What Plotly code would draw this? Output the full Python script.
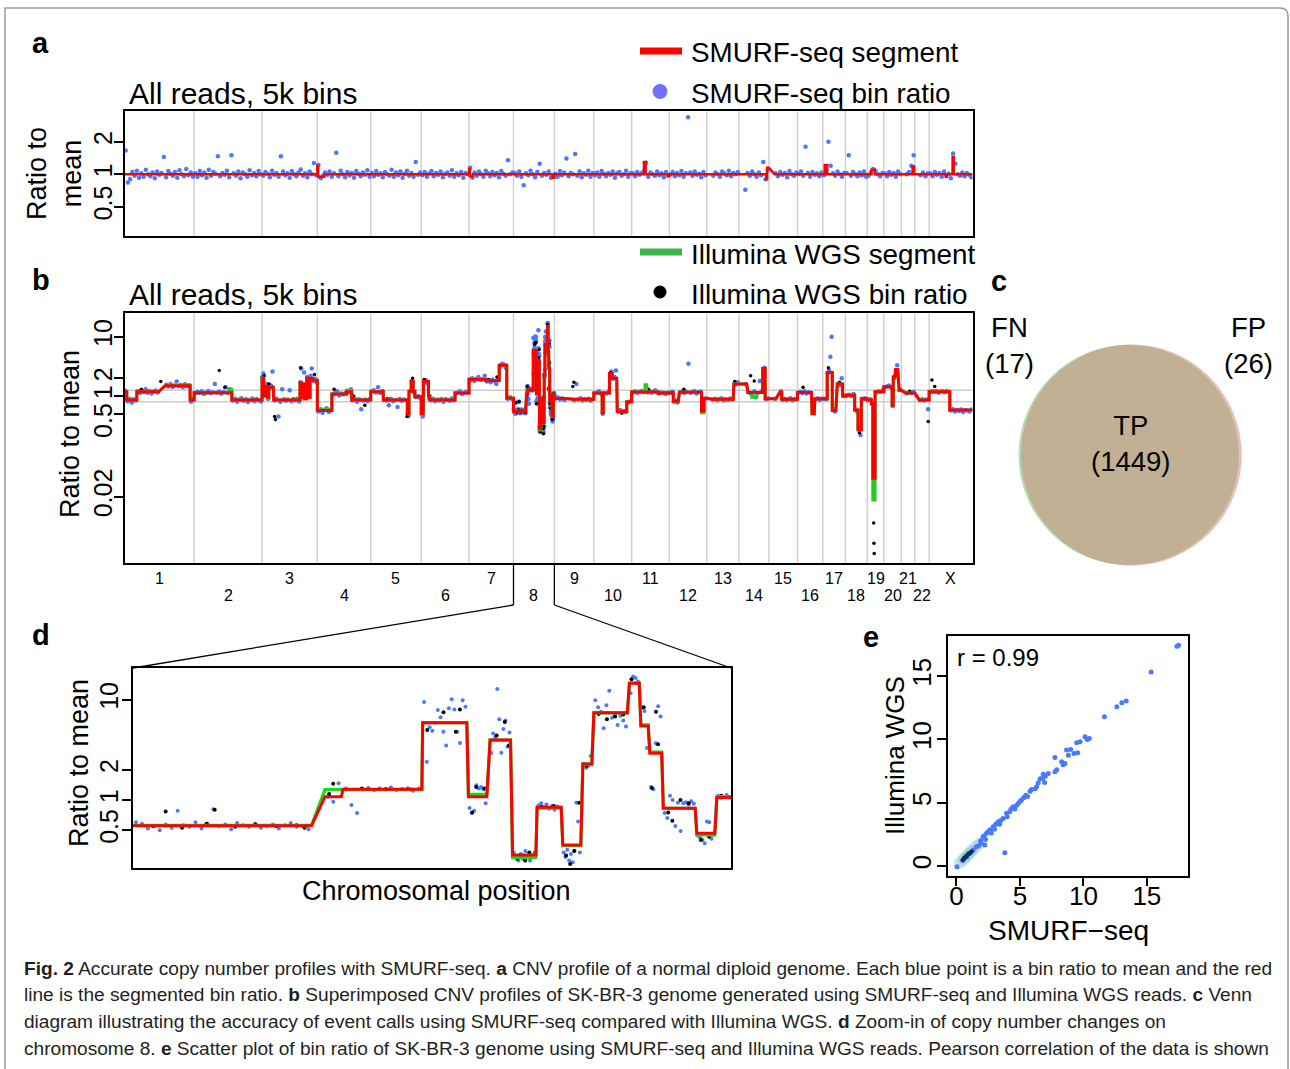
import math
import numpy as np
import plotly.graph_objects as go

W, H = 1290, 1069
FONT = "Liberation Sans, Arial, Helvetica, sans-serif"

# ---------------------------------------------------------------- data
chrom_names = ["1", "2", "3", "4", "5", "6", "7", "8", "9", "10", "11", "12",
               "13", "14", "15", "16", "17", "18", "19", "20", "21", "22", "X"]
chrom_len_mb = [249.25, 243.20, 198.02, 191.15, 180.92, 171.12, 159.14, 146.36,
                141.21, 135.53, 135.01, 133.85, 115.17, 107.35, 102.53, 90.35,
                81.20, 78.08, 59.13, 63.03, 48.13, 51.30, 155.27]

# panel a: normal diploid genome, SMURF-seq segments (chrom, start Mb, end Mb, ratio)
a_segments = [
    ("1", 0, 249.25, 1.0), ("2", 0, 243.2, 1.0), ("3", 0, 198.02, 1.0),
    ("4", 0, 3, 1.2), ("4", 3, 25, 0.95), ("4", 25, 191.15, 1.0),
    ("5", 0, 180.92, 1.0), ("6", 0, 171.12, 1.0),
    ("7", 0, 3, 1.12), ("7", 3, 14, 0.96), ("7", 14, 159.14, 1.0),
    ("8", 0, 140, 1.0), ("8", 140, 146.36, 0.93),
    ("9", 0, 141.21, 1.0), ("10", 0, 135.53, 1.0),
    ("11", 0, 44, 1.0), ("11", 44, 50, 1.3), ("11", 50, 130, 1.0), ("11", 130, 135.01, 0.97),
    ("12", 0, 133.85, 1.0), ("13", 19, 115.17, 1.0),
    ("14", 19, 98, 1.0), ("14", 98, 101, 0.9), ("14", 101, 107.35, 1.15),
    ("15", 20, 102.53, 1.0), ("16", 0, 90.35, 1.0),
    ("17", 0, 7, 1.0), ("17", 7, 16, 1.22), ("17", 16, 81.2, 1.0),
    ("18", 0, 78.08, 1.0),
    ("19", 0, 15, 1.0), ("19", 15, 27, 1.1), ("19", 27, 59.13, 1.0),
    ("20", 0, 63.03, 1.0),
    ("21", 15, 40, 1.0), ("21", 40, 46, 1.18), ("21", 46, 48.13, 1.0),
    ("22", 16, 51.3, 1.0),
    ("X", 0, 60, 1.0), ("X", 60, 64, 0.95), ("X", 64, 84, 1.0), ("X", 84, 88, 1.45), ("X", 88, 155.27, 1.0),
]

# panel a: SMURF-seq bin ratios, one list per chromosome (in genomic order)
a_bin_ratio = [
    [1.66, 0.84, 0.9, 1.05, 0.97, 1.08, 0.93, 1.02, 0.95, 1.1, 1.0, 0.96, 1.04, 0.92, 1.06, 0.99, 1.03, 1.45, 0.94, 1.07, 1.01, 0.97, 1.05, 0.93, 1.09, 1.0, 0.96, 1.12, 0.98, 1.04, 0.95],
    [1.02, 0.95, 1.07, 0.98, 1.04, 0.93, 1.1, 0.97, 1.05, 1.01, 1.47, 0.96, 1.03, 0.99, 1.08, 0.94, 1.5, 1.02, 0.97, 1.06, 0.92, 1.04, 1.0, 0.95, 1.09, 0.98, 1.03, 0.96, 1.07, 1.0],
    [0.97, 1.05, 1.01, 0.94, 1.08, 0.99, 1.03, 0.95, 1.47, 1.06, 0.98, 1.02, 0.93, 1.07, 1.0, 0.96, 1.04, 1.11, 0.97, 1.02, 0.94, 1.06, 1.0, 1.27, 0.98],
    [1.22, 0.92, 0.97, 1.04, 0.99, 1.06, 0.95, 1.02, 1.58, 0.96, 1.08, 1.0, 0.94, 1.05, 0.98, 1.03, 0.93, 1.07, 1.01, 0.96, 1.04, 0.99, 1.09, 0.95],
    [1.03, 0.96, 1.07, 0.99, 1.02, 0.94, 1.05, 1.0, 0.97, 1.1, 0.95, 1.04, 0.98, 1.06, 0.93, 1.01, 1.08, 0.97, 1.03, 0.95, 1.3, 0.99, 1.04],
    [0.98, 1.05, 0.95, 1.02, 1.07, 0.96, 1.03, 0.99, 1.06, 0.94, 1.01, 1.04, 0.97, 1.09, 0.95, 1.02, 0.98, 1.05, 0.93, 1.03, 1.0],
    [1.15, 0.93, 1.04, 0.97, 1.06, 1.0, 0.95, 1.08, 1.02, 0.96, 1.05, 0.98, 1.03, 0.94, 1.07, 1.01, 0.97, 1.35, 1.0, 1.04],
    [1.03, 0.97, 1.06, 0.95, 0.79, 1.02, 0.98, 1.08, 1.0, 0.94, 1.05, 1.25, 0.97, 1.03, 0.99, 1.06, 0.93, 0.96],
    [1.01, 0.95, 1.07, 0.98, 1.04, 1.4, 0.96, 1.03, 1.0, 1.54, 0.97, 1.06, 0.94, 1.02, 0.99, 1.08, 0.95, 1.03],
    [0.98, 1.04, 0.95, 1.07, 1.01, 0.96, 1.03, 0.99, 1.06, 0.93, 1.02, 1.05, 0.97, 1.0, 1.08, 0.95, 1.03],
    [1.02, 0.96, 1.05, 0.99, 1.03, 1.07, 1.28, 0.95, 1.04, 1.0, 0.97, 1.06, 0.98, 1.02, 0.94, 1.05, 0.97],
    [1.0, 1.05, 0.96, 1.03, 0.98, 1.07, 0.95, 1.02, 3.37, 1.04, 0.97, 1.06, 0.99, 1.01, 0.94, 1.05, 0.98],
    [0.97, 1.04, 1.0, 0.95, 1.06, 1.02, 0.98, 1.08, 0.96, 1.03, 1.0, 1.05],
    [0.72, 1.03, 0.97, 1.06, 1.0, 0.95, 1.04, 0.98, 1.3, 0.9, 1.1],
    [1.02, 0.96, 1.05, 0.99, 1.03, 0.94, 1.07, 1.0, 0.97, 1.04],
    [1.0, 1.06, 0.97, 1.8, 1.03, 0.95, 1.05, 0.99, 1.02, 0.96, 1.04],
    [0.98, 1.05, 2.0, 1.2, 1.02, 0.97, 1.06, 1.0, 0.95, 1.03],
    [1.03, 1.5, 0.97, 1.05, 1.0, 0.96, 1.04, 0.98, 1.06, 0.95],
    [0.97, 1.04, 1.12, 1.08, 1.0, 0.96, 1.03],
    [1.02, 0.96, 1.05, 0.99, 1.03, 0.95, 1.06, 1.0],
    [1.0, 1.05, 1.2, 1.5],
    [0.98, 1.04, 0.96, 1.02],
    [1.02, 0.96, 1.05, 0.99, 1.03, 0.95, 1.06, 0.98, 1.01, 0.92, 1.56, 1.25, 1.0, 0.97, 1.04, 0.96, 1.03, 0.99, 0.94],
]

# panel b: SK-BR-3 segments (chrom, start Mb, end Mb, SMURF-seq ratio, Illumina ratio, SMURF-seq bin ratios)
# chromosome 8 is taken from the panel d table below
b_segments = [
    ("1", 0, 8, 1.18, 1.18, [1.24, 1.1]),
    ("1", 8, 44, 0.86, 0.86, [0.82, 0.9, 0.78, 0.88, 0.84]),
    ("1", 44, 122, 1.18, 1.18, [1.2, 1.12, 1.25, 1.16, 1.3, 1.14, 1.21, 1.1, 1.19, 1.24, 1.15]),
    ("1", 146, 235, 1.49, 1.52, [1.55, 1.45, 1.6, 1.42, 1.5, 1.75, 1.48, 1.53, 1.4, 1.58, 1.46, 1.52]),
    ("1", 235, 249.25, 0.86, 0.86, [0.8, 0.9]),
    ("2", 0, 125, 1.14, 1.14, [1.1, 1.18, 1.12, 1.2, 1.08, 1.15, 1.22, 1.11, 1.16, 1.6, 1.13, 1.19, 1.09, 1.17, 1.4, 1.14]),
    ("2", 125, 135, 1.14, 1.3, [1.3, 1.2]),
    ("2", 135, 243.2, 0.86, 0.86, [0.84, 0.9, 0.8, 0.87, 0.92, 0.83, 0.88, 0.79, 0.86, 0.91, 0.82, 0.89, 0.85, 0.81]),
    ("3", 0, 6, 2.0, 2.0, [2.1, 1.8, 2.4]),
    ("3", 6, 10, 1.0, 1.0, [1.05]),
    ("3", 10, 20, 1.45, 1.45, [1.4, 1.6]),
    ("3", 20, 24, 0.95, 0.9, [0.9]),
    ("3", 24, 40, 1.4, 1.4, [1.35, 1.5, 2.6]),
    ("3", 42, 136, 0.86, 0.86, [0.84, 0.9, 0.45, 0.8, 1.3, 0.88, 0.83, 0.87, 1.25, 0.82, 0.89, 0.85, 0.9, 0.81]),
    ("3", 136, 142, 1.65, 1.65, [1.7, 2.9]),
    ("3", 142, 146, 0.95, 0.95, [0.95]),
    ("3", 146, 152, 1.6, 1.6, [1.55, 2.5]),
    ("3", 152, 160, 0.9, 0.9, [0.92]),
    ("3", 160, 166, 2.0, 2.0, [2.1, 1.8]),
    ("3", 166, 172, 0.95, 0.95, [1.0]),
    ("3", 172, 180, 2.0, 2.0, [2.2, 2.9]),
    ("3", 180, 198.02, 1.85, 1.85, [1.8, 1.95, 1.7]),
    ("4", 0, 52, 0.57, 0.6, [0.55, 0.6, 0.52, 0.58, 0.62, 0.54, 0.57]),
    ("4", 52, 105, 1.08, 1.08, [1.05, 1.12, 1.2, 1.02, 1.1, 1.06, 1.14]),
    ("4", 105, 123, 1.18, 1.25, [1.22, 1.15, 1.3]),
    ("4", 123, 191.15, 0.86, 0.86, [0.85, 0.9, 0.8, 0.88, 0.6, 0.84, 0.87, 0.82, 0.89]),
    ("5", 0, 45, 1.18, 1.18, [1.2, 1.25, 1.15, 1.4, 1.12, 1.22]),
    ("5", 45, 131, 0.86, 0.86, [0.88, 0.84, 0.7, 0.9, 0.82, 0.86, 0.65, 0.89, 0.83, 0.87, 0.85]),
    ("5", 131, 137, 0.5, 0.5, [0.5, 0.46]),
    ("5", 137, 145, 1.2, 1.2, [1.2]),
    ("5", 145, 152, 1.75, 1.75, [1.8, 1.6]),
    ("5", 152, 158, 1.2, 1.2, [1.15]),
    ("5", 158, 180.92, 0.97, 0.97, [0.95, 1.0, 0.92]),
    ("6", 0, 7, 0.5, 0.5, [0.52, 0.45]),
    ("6", 8, 26, 1.75, 1.75, [1.7, 1.85, 1.6]),
    ("6", 26, 31, 1.0, 1.0, [0.9]),
    ("6", 31, 121, 0.86, 0.86, [0.85, 0.9, 0.82, 0.87, 0.84, 0.89, 0.8, 0.88, 0.86, 0.83, 0.91, 0.85]),
    ("6", 121, 171.12, 1.12, 1.15, [1.1, 1.15, 1.2, 1.08, 1.12, 1.18, 1.14]),
    ("7", 0, 60, 1.9, 1.95, [1.85, 2.0, 1.8, 1.95, 2.1, 1.88, 1.92, 2.2]),
    ("7", 60, 108, 1.82, 1.82, [1.75, 1.85, 1.7, 1.9, 1.78, 1.6, 1.84]),
    ("7", 108, 135, 3.3, 3.3, [3.1, 3.5, 3.4, 3.0]),
    ("7", 135, 159.14, 0.92, 0.92, [0.9, 0.95, 0.88]),
    ("9", 0, 40, 0.91, 0.91, [0.9, 0.95, 0.88, 0.92, 0.86]),
    ("9", 68, 141.21, 0.88, 0.88, [0.85, 1.6, 0.87, 0.92, 0.84, 0.89, 0.86, 0.9, 0.83, 0.88]),
    ("10", 0, 30, 1.12, 1.12, [1.1, 1.15, 1.2, 1.08]),
    ("10", 30, 34, 0.52, 0.52, [0.5]),
    ("10", 34, 40, 1.12, 1.12, [1.12]),
    ("10", 42, 56, 1.12, 1.12, [1.1, 1.2]),
    ("10", 56, 66, 2.4, 2.4, [2.3, 2.6]),
    ("10", 66, 82, 2.0, 2.0, [1.95, 2.1, 2.7]),
    ("10", 84, 118, 0.55, 0.55, [0.55, 0.58, 0.52, 0.56, 0.54]),
    ("10", 118, 135.53, 0.8, 0.8, [0.78, 0.82]),
    ("11", 0, 48, 1.17, 1.17, [1.15, 1.2, 1.12, 1.18, 1.22, 1.16]),
    ("11", 48, 54, 1.17, 1.55, [1.3]),
    ("11", 54, 95, 1.17, 1.17, [1.15, 1.2, 1.14, 1.19, 1.25, 1.16]),
    ("11", 95, 135.01, 1.12, 1.12, [1.1, 1.15, 1.12, 1.08, 1.14]),
    ("12", 0, 14, 1.14, 1.14, [1.12, 1.18]),
    ("12", 14, 32, 0.82, 0.82, [0.8, 0.85, 0.78]),
    ("12", 36, 115, 1.16, 1.16, [1.15, 1.2, 1.12, 1.18, 3.5, 1.14, 1.17, 1.22, 1.1, 1.16, 1.19]),
    ("12", 115, 124, 0.56, 0.52, [0.55, 0.6]),
    ("12", 124, 133.85, 0.92, 0.92, [0.9]),
    ("13", 19, 95, 0.88, 0.88, [0.87, 0.9, 0.85, 0.89, 0.92, 0.84, 0.88, 0.86, 0.91, 0.87]),
    ("13", 97, 115.17, 1.6, 1.6, [1.55, 1.7]),
    ("14", 19, 28, 1.6, 1.6, [1.6]),
    ("14", 32, 46, 1.15, 1.15, [1.15, 1.1]),
    ("14", 46, 64, 1.15, 0.95, [1.0, 1.2, 0.95]),
    ("14", 64, 85, 1.15, 1.15, [1.12, 1.8, 1.2]),
    ("14", 85, 94, 2.9, 2.9, [2.8, 3.0]),
    ("14", 94, 107.35, 0.9, 0.9, [0.88, 0.92]),
    ("15", 20, 25, 0.9, 0.9, [0.9]),
    ("15", 40, 46, 1.17, 1.17, [1.2]),
    ("15", 46, 102.53, 0.88, 0.88, [0.86, 0.9, 0.85, 0.88, 0.92, 0.84, 0.89, 0.87]),
    ("16", 0, 50, 1.15, 1.15, [1.15, 1.18, 1.12, 1.2, 1.1, 1.16, 1.14]),
    ("16", 52, 60, 0.5, 0.5, [0.52]),
    ("16", 62, 90.35, 0.9, 0.9, [0.88, 0.92, 0.86, 0.9]),
    ("17", 0, 16, 0.9, 0.9, [0.9, 0.88]),
    ("17", 16, 34, 2.5, 2.5, [2.4, 2.7, 4.6, 10.0]),
    ("17", 34, 47, 0.57, 0.62, [0.58, 0.55]),
    ("17", 52, 71, 1.6, 1.6, [1.6, 1.5, 2.0]),
    ("17", 71, 81.2, 1.0, 1.0, [1.0]),
    ("18", 0, 33, 1.03, 1.03, [1.02, 1.05, 1.0, 1.08]),
    ("18", 33, 45, 0.58, 0.58, [0.6, 0.55]),
    ("18", 45, 57, 0.27, 0.27, [0.3, 0.22]),
    ("18", 57, 78.08, 0.9, 0.9, [0.88, 0.92, 0.9]),
    ("19", 0, 15, 0.86, 0.86, [0.85, 0.88]),
    ("19", 15, 20, 0.75, 0.72, [0.75]),
    ("19", 20, 28, 0.041, 0.0177, [0.045]),
    ("19", 28, 59.13, 1.18, 1.18, [1.15, 1.2, 1.18, 1.25]),
    ("20", 0, 30, 1.43, 1.43, [1.4, 1.45, 1.5, 1.38]),
    ("20", 30, 34, 0.7, 0.7, [0.68]),
    ("20", 34, 40, 2.1, 2.1, [2.0]),
    ("20", 42, 50, 2.8, 2.8, [2.7, 3.3]),
    ("20", 55, 63.03, 1.25, 1.25, [1.3]),
    ("21", 15, 48.13, 1.12, 1.12, [1.1, 1.15, 1.12, 1.18]),
    ("22", 16, 51.3, 0.86, 0.86, [0.85, 0.88, 0.84, 0.87, 0.6]),
    ("X", 0, 74, 1.18, 1.2, [1.15, 1.2, 1.18, 1.22, 1.14, 1.19, 1.2, 1.16, 1.21, 1.17]),
    ("X", 74, 155.27, 0.58, 0.57, [0.57, 0.6, 0.55, 0.58, 0.56, 0.59, 0.54, 0.58, 0.57, 0.55, 0.59]),
]
b_ref_levels = [1.25, 0.8]
# Illumina WGS bin ratios that stand out of the band (chrom, Mb, ratio)
b_illumina_points = [
    ("1", 130, 1.75), ("1", 60, 1.3), ("2", 90, 2.7), ("2", 110, 1.4), ("3", 8, 2.2), ("3", 25, 1.6),
    ("3", 45, 0.45), ("3", 48, 0.4), ("3", 138, 3.0), ("3", 188, 2.3), ("4", 60, 1.3), ("4", 130, 1.0),
    ("4", 170, 0.7), ("5", 60, 0.9), ("5", 130, 0.45), ("5", 150, 2.0), ("6", 10, 1.9), ("7", 70, 1.9),
    ("7", 100, 2.1), ("9", 66, 1.45), ("9", 70, 1.7), ("10", 60, 2.5), ("10", 100, 0.52), ("11", 50, 1.45),
    ("11", 60, 1.3), ("12", 52, 1.3), ("13", 100, 1.75), ("14", 42, 2.2), ("14", 55, 1.8), ("16", 20, 1.4),
    ("17", 20, 3.0), ("17", 60, 1.7), ("18", 50, 0.24), ("18", 70, 0.9), ("19", 22, 0.7), ("19", 23, 0.0072),
    ("19", 24, 0.0033), ("19", 25, 0.0022), ("20", 45, 2.3), ("21", 30, 1.2), ("22", 48, 0.37),
    ("X", 10, 1.86), ("X", 20, 1.45),
]

# panel d: chromosome 8 (start Mb, end Mb, SMURF-seq ratio, Illumina ratio, SMURF-seq bin ratios)
d_segments = [
    (0.0, 43.7, 0.554, 0.56, [0.6, 0.58, 0.52, 0.55, 0.5, 0.57, 0.53, 0.78, 0.56, 0.54, 0.6, 0.52, 0.58, 0.81, 0.55, 0.57, 0.51, 0.59, 0.56, 0.54, 0.58, 0.53, 0.55, 0.57, 0.52, 0.56, 0.59, 0.54, 0.55, 0.51]),
    (47.0, 51.0, 1.08, 1.27, [1.08, 0.96, 1.47]),
    (51.4, 70.7, 1.28, 1.27, [1.3, 0.89, 0.74, 1.27, 1.32, 1.25, 1.3, 1.28, 1.33, 1.26, 1.29, 1.31, 1.24, 1.3]),
    (70.9, 81.7, 5.9, 5.9, [9.5, 2.4, 5.3, 4.9, 5.9, 7.9, 6.7, 4.8, 3.5, 8.2, 10.1, 8.0, 4.8, 3.7, 9.9, 8.5]),
    (82.1, 86.6, 1.08, 1.14, [0.83, 0.74, 0.78, 1.4, 1.3, 1.35, 1.28, 0.93]),
    (87.4, 92.4, 3.96, 3.96, [2.94, 4.6, 4.2, 12.8, 6.4, 2.96, 5.1, 6.2, 3.4, 4.7]),
    (92.9, 98.6, 0.283, 0.268, [0.3, 0.27, 0.25, 0.29, 0.26, 0.31, 0.27, 0.25, 0.28, 0.3]),
    (98.9, 104.8, 0.846, 0.83, [0.88, 0.93, 0.85, 0.9, 0.82, 0.87, 0.8, 0.86, 0.84]),
    (105.2, 109.6, 0.356, 0.35, [0.3, 0.27, 0.32, 0.25, 0.29, 0.24, 0.31, 0.94, 0.61, 0.3]),
    (110.1, 112.3, 2.28, 2.28, [2.3, 2.1, 2.2, 2.74]),
    (112.8, 121.0, 7.4, 7.4, [9.9, 8.4, 7.6, 5.2, 8.8, 12.3, 6.6, 7.0, 5.6, 6.9, 6.2, 5.4]),
    (121.5, 123.9, 14.6, 14.6, [11.6, 17.0, 16.5, 15.2]),
    (124.3, 126.1, 5.47, 5.6, [8.3, 7.7, 3.3]),
    (126.5, 129.4, 2.92, 3.0, [1.35, 1.28, 3.67, 8.6, 6.8]),
    (129.8, 137.6, 0.827, 0.827, [0.74, 0.66, 1.1, 1.0, 0.55, 0.94, 0.49, 0.93, 0.95, 0.9, 0.97, 0.92]),
    (138.0, 142.4, 0.465, 0.45, [0.44, 0.42, 0.4, 0.37, 0.61, 0.6, 0.41, 0.45]),
    (142.9, 146.36, 1.06, 1.08, [1.1, 1.05, 1.08, 1.12, 1.06]),
]
d_illumina_points = [
    (5, 0.55), (8, 0.77), (12, 0.53), (18, 0.58), (20, 0.8), (25, 0.54), (30, 0.57), (35, 0.55),
    (40, 0.56), (42, 0.53), (48, 1.15), (49, 1.45), (56, 1.3), (62, 1.28), (68, 1.27), (72, 5.0),
    (76, 7.5), (80, 8.0), (79, 4.8), (83, 0.75), (84, 1.35), (86, 1.3), (89, 4.4), (91, 6.0),
    (92, 3.5), (94, 0.26), (96, 0.25), (97, 0.3), (100, 0.85), (103, 0.87), (106, 0.28), (107, 0.23),
    (108, 0.31), (109.2, 0.94), (111, 2.2), (114, 7.2), (116, 6.4), (118, 6.8), (120, 7.1),
    (122, 16.0), (125, 8.4), (127, 1.32), (128, 7.6), (128.5, 3.6), (131, 0.75), (132, 0.62),
    (134, 1.0), (136, 0.93), (139, 0.4), (141, 0.43), (144, 1.1), (145.5, 1.08),
]

# panel c: Venn counts
venn_tp, venn_fn, venn_fp = 1449, 17, 26

# panel e: bin ratio scatter
e_smurf = [17.5, 17.37, 15.34, 13.37, 13.03, 12.63, 11.66, 10.47, 10.13, 9.74, 9.47, 9.55, 9.26, 8.82, 8.68,
           8.55, 8.29, 7.76, 7.76, 7.24, 6.84, 6.79, 6.45, 6.32, 5.92, 5.47, 5.13, 4.87, 4.47, 4.21, 3.95,
           3.68, 3.29, 2.89, 2.63, 2.37, 2.1, 1.97, 2.24, 3.82, 1.58, 1.32, 1.05, 0.79, 0.53, 0.05,
           8.4, 7.9, 7.0, 6.6, 6.2, 5.8, 5.3, 5.0, 4.6, 4.3, 4.0, 3.5, 3.1, 3.0, 2.75, 2.5, 2.3, 1.9,
           1.75, 2.2, 6.95, 10.3, 9.0, 5.6, 4.75, 3.4, 2.95]
e_illumina = [17.45, 17.37, 15.34, 13.05, 12.9, 12.58, 11.79, 10.08, 10.21, 9.82, 9.74, 8.95, 8.89, 8.76, 9.16,
              8.1, 8.24, 8.58, 7.45, 7.32, 7.26, 6.92, 6.58, 6.26, 6.05, 5.6, 5.21, 4.95, 4.68, 4.29, 4.16,
              3.76, 3.5, 3.1, 2.84, 2.58, 2.32, 1.79, 1.66, 1.05, 1.53, 1.26, 1.0, 0.74, 0.47, -0.05,
              8.0, 7.6, 7.1, 6.9, 6.1, 5.9, 5.4, 5.1, 4.5, 4.5, 3.9, 3.6, 3.3, 2.9, 2.6, 2.7, 2.1, 2.0,
              1.6, 2.4, 6.6, 10.0, 9.2, 5.5, 4.8, 3.3, 3.0]
e_dense_smurf = [0.2, 0.4, 0.55, 0.7, 0.85, 1.0, 1.15, 1.3, 1.5, 1.7, 1.9, 0.6, 0.9, 1.2]
e_dense_illumina = [0.2, 0.35, 0.6, 0.65, 0.9, 0.95, 1.2, 1.25, 1.55, 1.65, 1.85, 0.5, 0.8, 1.1]
e_core_smurf = [0.6, 0.7, 0.78, 0.85, 0.95, 1.05, 0.5, 1.2]
e_core_illumina = [0.62, 0.68, 0.8, 0.83, 0.97, 1.0, 0.45, 1.15]
e_pearson_r = 0.99

# ---------------------------------------------------------------- helpers
RED = "#ff0000"
GREEN = "#22cc22"
BLUE = "rgb(72,122,255)"


def pxx(x):
    return x / W


def pxy(y):
    return 1 - y / H


offsets = np.concatenate([[0.0], np.cumsum(chrom_len_mb)])
genome_len = float(offsets[-1])
cidx = {c: i for i, c in enumerate(chrom_names)}

dom_x_ab = [pxx(124.5), pxx(972.5)]
dom_y_a = [pxy(236), pxy(111)]
dom_y_b = [pxy(563), pxy(313)]
dom_x_d = [pxx(133), pxx(731)]
dom_y_d = [pxy(868), pxy(668)]
dom_x_e = [pxx(948), pxx(1188)]
dom_y_e = [pxy(876), pxy(636)]
dom_x_v = [pxx(980), pxx(1280)]
dom_y_v = [pxy(580), pxy(330)]

fig = go.Figure()

# ---------------------------------------------------------------- panel a
a_line_x, a_line_y = [], []
for c, s, e, v in a_segments:
    o = offsets[cidx[c]]
    a_line_x += [o + s, o + e]
    a_line_y += [v, v]
a_bx, a_by = [], []
for i, vals in enumerate(a_bin_ratio):
    c = chrom_names[i]
    s0 = min(s for cc, s, e, v in a_segments if cc == c)
    e0 = chrom_len_mb[i]
    n = len(vals)
    for k, v in enumerate(vals):
        a_bx.append(offsets[i] + s0 + (k + 0.5) * (e0 - s0) / n)
        a_by.append(v)
fig.add_trace(go.Scatter(x=a_bx, y=a_by, mode="markers", marker=dict(size=4.5, color=BLUE),
                         xaxis="x", yaxis="y", hoverinfo="skip"))
fig.add_trace(go.Scatter(x=a_line_x, y=a_line_y, mode="lines", line=dict(color=RED, width=2.5),
                         xaxis="x", yaxis="y", hoverinfo="skip"))

# ---------------------------------------------------------------- panel b
all_segments = []
for c in chrom_names:
    if c == "8":
        for s, e, sm, il, bins in d_segments:
            all_segments.append((c, s, e, sm, il, bins))
    else:
        all_segments += [row for row in b_segments if row[0] == c]

b_red_x, b_red_y, b_grn_x, b_grn_y, b_bx, b_by = [], [], [], [], [], []
for c, s, e, sm, il, bins in all_segments:
    o = offsets[cidx[c]]
    b_red_x += [o + s, o + e]
    b_red_y += [sm, sm]
    b_grn_x += [o + s, o + e]
    b_grn_y += [il, il]
    n = len(bins)
    for k, v in enumerate(bins):
        b_bx.append(o + s + (k + 0.5) * (e - s) / n)
        b_by.append(v)
b_kx = [offsets[cidx[c]] + p for c, p, v in b_illumina_points] + [offsets[cidx["8"]] + p for p, v in d_illumina_points]
b_ky = [v for c, p, v in b_illumina_points] + [v for p, v in d_illumina_points]

for lv in b_ref_levels:
    fig.add_trace(go.Scatter(x=[0, genome_len], y=[lv, lv], mode="lines",
                             line=dict(color="#cccccc", width=1.3), xaxis="x2", yaxis="y2", hoverinfo="skip"))
fig.add_trace(go.Scatter(x=b_bx, y=b_by, mode="markers", marker=dict(size=4.5, color=BLUE),
                         xaxis="x2", yaxis="y2", hoverinfo="skip"))
fig.add_trace(go.Scatter(x=b_kx, y=b_ky, mode="markers", marker=dict(size=3.5, color="black"),
                         xaxis="x2", yaxis="y2", hoverinfo="skip"))
fig.add_trace(go.Scatter(x=b_grn_x, y=b_grn_y, mode="lines", line=dict(color=GREEN, width=3),
                         xaxis="x2", yaxis="y2", hoverinfo="skip"))
fig.add_trace(go.Scatter(x=b_red_x, y=b_red_y, mode="lines", line=dict(color=RED, width=3),
                         xaxis="x2", yaxis="y2", hoverinfo="skip"))

# ---------------------------------------------------------------- panel d
d_red_x, d_red_y, d_grn_x, d_grn_y, d_bx, d_by = [], [], [], [], [], []
for s, e, sm, il, bins in d_segments:
    d_red_x += [s, e]
    d_red_y += [sm, sm]
    d_grn_x += [s, e]
    d_grn_y += [il, il]
    n = len(bins)
    for k, v in enumerate(bins):
        d_bx.append(s + (k + 0.5) * (e - s) / n)
        d_by.append(v)
fig.add_trace(go.Scatter(x=d_bx, y=d_by, mode="markers", marker=dict(size=4, color=BLUE),
                         xaxis="x3", yaxis="y3", hoverinfo="skip"))
fig.add_trace(go.Scatter(x=[p for p, v in d_illumina_points], y=[v for p, v in d_illumina_points],
                         mode="markers", marker=dict(size=4, color="black"),
                         xaxis="x3", yaxis="y3", hoverinfo="skip"))
fig.add_trace(go.Scatter(x=d_grn_x, y=d_grn_y, mode="lines", line=dict(color="#11dd11", width=3.2),
                         xaxis="x3", yaxis="y3", hoverinfo="skip"))
fig.add_trace(go.Scatter(x=d_red_x, y=d_red_y, mode="lines", line=dict(color=RED, width=3),
                         xaxis="x3", yaxis="y3", hoverinfo="skip"))

# ---------------------------------------------------------------- panel e
fig.add_trace(go.Scatter(x=e_dense_smurf, y=e_dense_illumina, mode="markers",
                         marker=dict(size=12, color="rgba(140,200,215,0.3)"),
                         xaxis="x4", yaxis="y4", hoverinfo="skip"))
fig.add_trace(go.Scatter(x=e_smurf, y=e_illumina, mode="markers", marker=dict(size=5, color=BLUE),
                         xaxis="x4", yaxis="y4", hoverinfo="skip"))
fig.add_trace(go.Scatter(x=e_core_smurf, y=e_core_illumina, mode="markers",
                         marker=dict(size=4.5, color="#0d2f66"), xaxis="x4", yaxis="y4", hoverinfo="skip"))

# ---------------------------------------------------------------- axes
box = dict(showline=True, mirror=True, linecolor="black", linewidth=2, showgrid=False, zeroline=False)


def ytick(size, standoff):
    return dict(ticks="outside", ticklen=9, tickwidth=2, tickcolor="black", tickangle=-90,
                ticklabelstandoff=standoff, tickfont=dict(family=FONT, size=size, color="black"))


NB = "\u00a0"
layout_axes = dict(
    xaxis=dict(domain=dom_x_ab, range=[0, genome_len], showticklabels=False, ticks="", anchor="y", **box),
    yaxis=dict(domain=dom_y_a, type="log", range=[math.log10(0.268), math.log10(3.86)],
               tickvals=[0.5, 1, 2], ticktext=["0.5", "1", "2"], anchor="x", **ytick(25, -8), **box),
    xaxis2=dict(domain=dom_x_ab, range=[0, genome_len], showticklabels=False, ticks="", anchor="y2", **box),
    yaxis2=dict(domain=dom_y_b, type="log", range=[-2.816, 1.400],
                tickvals=[0.02, 0.5, 1, 2, 10], ticktext=["0.02", "0.5" + NB * 3, "1", "2", "10"], anchor="x2",
                **ytick(25, -8), **box),
    xaxis3=dict(domain=dom_x_d, range=[0, chrom_len_mb[cidx["8"]]], showticklabels=False, ticks="",
                anchor="y3", **box),
    yaxis3=dict(domain=dom_y_d, type="log", range=[-0.678, 1.316],
                tickvals=[0.5, 1, 2, 10], ticktext=["0.5", "1", "2", "10"], anchor="x3", **ytick(25, -6), **box),
    xaxis4=dict(domain=dom_x_e, range=[-0.66, 18.24], tickvals=[0, 5, 10, 15], ticks="outside", ticklen=8,
                tickwidth=2, tickcolor="black", ticklabelstandoff=-12,
                tickfont=dict(family=FONT, size=26, color="black"), anchor="y4", **box),
    yaxis4=dict(domain=dom_y_e, range=[-0.79, 18.18], tickvals=[0, 5, 10, 15], anchor="x4",
                **ytick(26, -4), **box),
    xaxis5=dict(domain=dom_x_v, range=[-29.4, 29.4], visible=False, anchor="y5"),
    yaxis5=dict(domain=dom_y_v, range=[-24.5, 24.5], visible=False, anchor="x5"),
)

# ---------------------------------------------------------------- shapes
shapes = []
for g in offsets[1:-1]:
    for xr, yr in (("x", "y domain"), ("x2", "y2 domain")):
        shapes.append(dict(type="line", xref=xr, yref=yr, x0=g, x1=g, y0=0, y1=1,
                           line=dict(color="#cfcfcf", width=1.4), layer="below"))


def gpx(g):
    return dom_x_ab[0] + g / genome_len * (dom_x_ab[1] - dom_x_ab[0])


# connectors from chromosome 8 to panel d
c8s, c8e = offsets[cidx["8"]], offsets[cidx["8"] + 1]
for g, corner in ((c8s, dom_x_d[0]), (c8e, dom_x_d[1])):
    shapes.append(dict(type="line", xref="paper", yref="paper", x0=gpx(g), x1=gpx(g),
                       y0=pxy(563), y1=pxy(605), line=dict(color="black", width=1.3)))
    shapes.append(dict(type="line", xref="paper", yref="paper", x0=gpx(g), x1=corner,
                       y0=pxy(605), y1=dom_y_d[1], line=dict(color="black", width=1.3)))

# Venn circles (area proportional to counts)
r_ill = math.sqrt((venn_tp + venn_fn) / math.pi)
r_smf = math.sqrt((venn_tp + venn_fp) / math.pi)
sep = (venn_fn + venn_fp) / (2 * (r_ill + r_smf))
for cx, r, col in ((-sep / 2, r_ill, "rgba(105,185,105,0.5)"), (sep / 2, r_smf, "rgba(206,132,116,0.5)")):
    shapes.append(dict(type="circle", xref="x5", yref="y5", x0=cx - r, x1=cx + r, y0=-r, y1=r,
                       fillcolor=col, line=dict(width=0)))

# legend marks
shapes.append(dict(type="line", xref="paper", yref="paper", x0=pxx(640), x1=pxx(682), y0=pxy(51), y1=pxy(51),
                   line=dict(color=RED, width=7)))
shapes.append(dict(type="circle", xref="paper", yref="paper", x0=pxx(652.5), x1=pxx(667.5), y0=pxy(99),
                   y1=pxy(84), fillcolor="rgb(108,114,255)", line=dict(width=0)))
shapes.append(dict(type="line", xref="paper", yref="paper", x0=pxx(640), x1=pxx(682), y0=pxy(252), y1=pxy(252),
                   line=dict(color="#3cb44b", width=7)))
shapes.append(dict(type="circle", xref="paper", yref="paper", x0=pxx(653.5), x1=pxx(666.5), y0=pxy(298.5),
                   y1=pxy(285.5), fillcolor="black", line=dict(width=0)))

# outer frame
frame = (f"M {pxx(5)},{pxy(1069)} L {pxx(5)},{pxy(8)} L {pxx(1280)},{pxy(8)} "
         f"Q {pxx(1288)},{pxy(8)} {pxx(1288)},{pxy(16)} L {pxx(1288)},{pxy(1069)}")
shapes.append(dict(type="path", xref="paper", yref="paper", path=frame,
                   line=dict(color="#9a9a9a", width=1.5)))


# ---------------------------------------------------------------- annotations
def ann(text, x, y, size, angle=0, xanchor="center", yanchor="middle", color="black", family=FONT):
    return dict(text=text, x=pxx(x), y=pxy(y), xref="paper", yref="paper", showarrow=False,
                font=dict(family=family, size=size, color=color), textangle=angle,
                xanchor=xanchor, yanchor=yanchor)


annots = [
    ann("<b>a</b>", 40, 43, 29), ann("<b>b</b>", 41, 280, 29), ann("<b>c</b>", 999, 281, 29),
    ann("<b>d</b>", 41, 635, 29), ann("<b>e</b>", 871, 637, 29),
    ann("All reads, 5k bins", 127, 93, 30, xanchor="left"),
    ann("All reads, 5k bins", 127, 294, 30, xanchor="left"),
    ann("SMURF-seq segment", 689, 53, 27.8, xanchor="left"),
    ann("SMURF-seq bin ratio", 689, 93, 27.8, xanchor="left"),
    ann("Illumina WGS segment", 689, 254, 27.8, xanchor="left"),
    ann("Illumina WGS bin ratio", 689, 294, 27.8, xanchor="left"),
    ann("Ratio to<br>mean", 55, 174, 27, angle=-90),
    ann("Ratio to mean", 70, 434, 27, angle=-90),
    ann("Ratio to mean", 79, 763, 27, angle=-90),
    ann("Illumina WGS", 895, 756, 26, angle=-90),
    ann("Chromosomal position", 436, 891, 27),
    ann("SMURF\u2212seq", 1068, 930, 28),
    ann(f"r = {e_pearson_r:.2f}", 955, 657, 24, xanchor="left"),
    ann(f"FN<br>({venn_fn})", 1010, 345, 27.5),
    ann(f"FP<br>({venn_fp})", 1248, 345, 27.5),
    ann(f"TP<br>({venn_tp})", 1131, 443, 27.5),
]
# chromosome labels below panel b
for i, c in enumerate(chrom_names):
    mid = (offsets[i] + offsets[i + 1]) / 2
    annots.append(dict(text=c, x=mid, xref="x2", y=pxy(578 if i % 2 == 0 else 595), yref="paper",
                       showarrow=False, font=dict(family=FONT, size=16, color="black"),
                       xanchor="center", yanchor="middle"))

caption_lines = [
    "<b>Fig. 2</b> Accurate copy number profiles with SMURF-seq. <b>a</b> CNV profile of a normal diploid genome. "
    "Each blue point is a bin ratio to mean and the red",
    "line is the segmented bin ratio. <b>b</b> Superimposed CNV profiles of SK-BR-3 genome generated using "
    "SMURF-seq and Illumina WGS reads. <b>c</b> Venn",
    "diagram illustrating the accuracy of event calls using SMURF-seq compared with Illumina WGS. <b>d</b> Zoom-in "
    "of copy number changes on",
    "chromosome 8. <b>e</b> Scatter plot of bin ratio of SK-BR-3 genome using SMURF-seq and Illumina WGS reads. "
    "Pearson correlation of the data is shown",
]
for line, y in zip(caption_lines, [968, 994, 1021, 1048]):
    annots.append(ann(line, 22, y, 19.1, xanchor="left", color="#231f20"))

fig.update_layout(
    width=W, height=H, margin=dict(l=0, r=0, t=0, b=0), showlegend=False,
    plot_bgcolor="white", paper_bgcolor="white", font=dict(family=FONT, color="black"),
    shapes=shapes, annotations=annots, **layout_axes,
)

fig.write_html("out.html", config={"displayModeBar": False},
               post_script="document.body.style.margin='0';")
